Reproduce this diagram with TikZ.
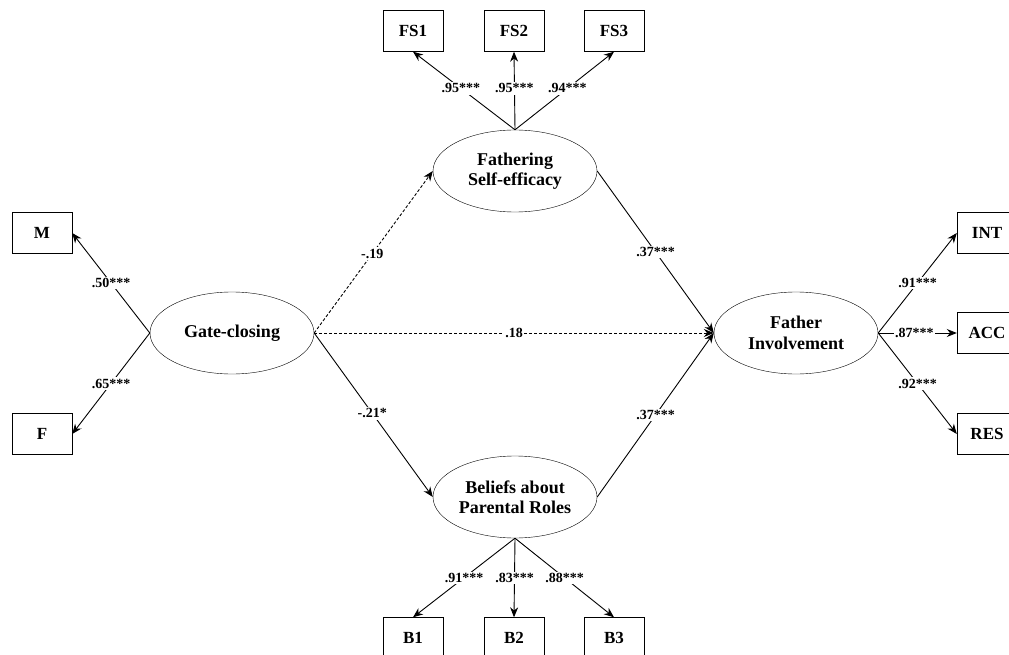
\documentclass[tikz,border=0pt]{standalone}
\usepackage{fontspec}
\setmainfont{Liberation Serif}
\usetikzlibrary{arrows.meta,shapes.geometric}
\tikzset{
	box/.style = { draw, minimum width=60pt, minimum height=41pt, inner sep=0pt, font=\fontsize{17}{19}\selectfont\bfseries },
	latent/.style = { draw, ellipse, minimum width=164pt, minimum height=82pt, inner sep=0pt, align=center, font=\fontsize{18}{20.5}\selectfont\bfseries },
	arrow/.style = { line width=0.9pt, color=black, -{Stealth[length=10pt,width=8pt]} },
	dasharrow/.style = { arrow, dash pattern=on 3pt off 2pt },
	coef/.style = { fill=white, inner sep=1.5pt, font=\fontsize{14}{16}\selectfont\bfseries },
}

\begin{document}
\begin{tikzpicture}[x=1pt,y=-1pt]
\useasboundingbox (0,0) rectangle (1009,655);

\node[latent] (gate) at (232,333) {Gate-closing};
\node[latent] (fse)  at (515,171) {Fathering\\Self-efficacy};
\node[latent] (bpr)  at (515,497) {Beliefs about\\Parental Roles};
\node[latent] (fi)   at (796,333) {Father\\Involvement};

\node[box] (M)   at (42,233)  {M};
\node[box] (F)   at (42,434)  {F};
\node[box] (FS1) at (413,31)  {FS1};
\node[box] (FS2) at (514,31)  {FS2};
\node[box] (FS3) at (614,31)  {FS3};
\node[box] (B1)  at (413,638) {B1};
\node[box] (B2)  at (514,638) {B2};
\node[box] (B3)  at (614,638) {B3};
\node[box] (INT) at (987,233) {INT};
\node[box] (ACC) at (987,333) {ACC};
\node[box] (RES) at (987,434) {RES};

% measurement part
\draw[arrow] (gate.west) -- node[coef] {.50***} (M.east);
\draw[arrow] (gate.west) -- node[coef] {.65***} (F.east);
\draw[arrow] (fse.north) -- node[coef, pos=0.53] {.95***} (FS1.south);
\draw[arrow] (fse.north) -- node[coef, pos=0.53] {.95***} (FS2.south);
\draw[arrow] (fse.north) -- node[coef, pos=0.53] {.94***} (FS3.south);
\draw[arrow] (bpr.south) -- node[coef, pos=0.5] {.91***} (B1.north);
\draw[arrow] (bpr.south) -- node[coef, pos=0.5] {.83***} (B2.north);
\draw[arrow] (bpr.south) -- node[coef, pos=0.5] {.88***} (B3.north);
\draw[arrow] (fi.east) -- node[coef] {.91***} (INT.west);
\draw[arrow] (fi.east) -- node[coef, pos=0.46] {.87***} (ACC.west);
\draw[arrow] (fi.east) -- node[coef] {.92***} (RES.west);

% structural part
\draw[dasharrow] (gate.east) -- node[coef, pos=0.49] {-.19} (fse.west);
\draw[dasharrow] (gate.east) -- node[coef] {.18} (fi.west);
\draw[arrow] (gate.east) -- node[coef, pos=0.49] {-.21*} (bpr.west);
\draw[arrow] (fse.east) -- node[coef] {.37***} (fi.west);
\draw[arrow] (bpr.east) -- node[coef] {.37***} (fi.west);
\end{tikzpicture}
\end{document}
